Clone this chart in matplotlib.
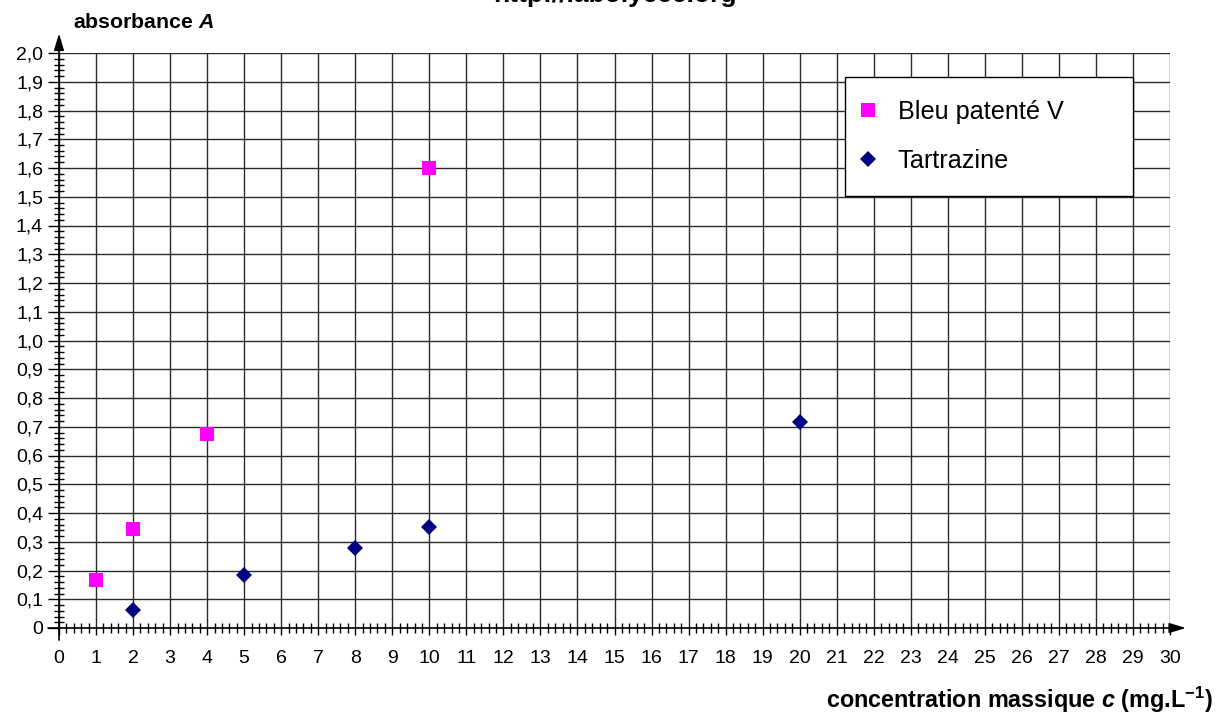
import matplotlib
matplotlib.use("Agg")
import matplotlib.pyplot as plt
from matplotlib.ticker import MultipleLocator, FuncFormatter

plt.rcParams['font.family'] = ['Liberation Sans', 'DejaVu Sans']
plt.rcParams['mathtext.fontset'] = 'custom'
plt.rcParams['mathtext.rm'] = 'Liberation Sans:bold'
plt.rcParams['mathtext.bf'] = 'Liberation Sans:bold'
plt.rcParams['mathtext.it'] = 'Liberation Sans:bold:italic'
plt.rcParams['mathtext.bfit'] = 'Liberation Sans:bold:italic'

# Data
bleu_c = [1, 2, 4, 10]
bleu_A = [0.167, 0.343, 0.675, 1.60]
tart_c = [2, 5, 8, 10, 20]
tart_A = [0.061, 0.183, 0.279, 0.352, 0.717]
series_labels = ["Bleu patenté V", "Tartrazine"]
title_text = "http://labolycee.org"
ylabel_text = r"absorbance $\mathit{A}$"
xlabel_text = r"concentration massique $\mathit{c}$ (mg.L$^{\mathbf{-1}}$)"

fig = plt.figure(figsize=(12.21, 7.18), dpi=100)
W, H = 1221, 718
x0, x1, y0, y1 = 59, 1170, 628, 53
ax = fig.add_axes([x0 / W, 1 - y0 / H, (x1 - x0) / W, (y0 - y1) / H])

ax.set_xlim(0, 30)
ax.set_ylim(0, 2.0)

ax.xaxis.set_major_locator(MultipleLocator(1))
ax.xaxis.set_minor_locator(MultipleLocator(0.2))
ax.yaxis.set_major_locator(MultipleLocator(0.1))
ax.yaxis.set_minor_locator(MultipleLocator(0.02))

def yfmt(v, pos):
    if abs(v) < 1e-9:
        return "0"
    return f"{v:.1f}".replace(".", ",")

ax.yaxis.set_major_formatter(FuncFormatter(yfmt))
ax.xaxis.set_major_formatter(FuncFormatter(lambda v, p: f"{int(round(v))}"))

ax.grid(which='major', color='#2a2a2a', linewidth=1.0)
ax.set_axisbelow(True)

for s in ax.spines.values():
    s.set_visible(False)

ax.tick_params(axis='x', which='major', direction='out', length=5, width=1,
               pad=11, labelsize=14, color='black')
ax.tick_params(axis='y', which='major', direction='out', length=8, width=1,
               pad=3.5, labelsize=14, color='black')
ax.tick_params(axis='both', which='minor', direction='inout', length=7, width=1,
               color='black')

ax.plot(bleu_c, bleu_A, linestyle='none', marker='s', markersize=10,
        color='#ff00ff', markeredgewidth=0, label=series_labels[0], zorder=4)
ax.plot(tart_c, tart_A, linestyle='none', marker='D', markersize=7.7,
        color='#000080', markeredgewidth=0, label=series_labels[1], zorder=4)

# axes arrows
arrow_kw = dict(arrowstyle='-|>,head_length=1.0,head_width=0.3', color='black',
                lw=1.2, shrinkA=0, shrinkB=0, mutation_scale=10)
ax.annotate('', xy=(0, 1.034), xytext=(0, -0.021), xycoords='axes fraction',
            textcoords='axes fraction', arrowprops=arrow_kw, annotation_clip=False)
ax.annotate('', xy=(1.0144, 0), xytext=(-0.0099, 0), xycoords='axes fraction',
            textcoords='axes fraction', arrowprops=arrow_kw, annotation_clip=False)

leg = ax.legend(loc='upper left', bbox_to_anchor=(0.7075, 0.7496, 0.2592, 0.2087),
                mode='expand', borderaxespad=0, fontsize=18.2, frameon=True,
                fancybox=False, framealpha=1, edgecolor='black',
                handlelength=0.0, handletextpad=1.19, borderpad=0.9,
                labelspacing=1.0)
leg.get_frame().set_linewidth(1.0)

fig.text(615 / W, 1 - 2 / H, title_text, ha='center', va='baseline',
         fontsize=19, fontweight='bold')
fig.text(73 / W, 1 - 22 / H, ylabel_text, ha='left', va='center',
         fontsize=15.3, fontweight='bold')
fig.text(1213 / W, 1 - 700 / H, xlabel_text, ha='right', va='center',
         fontsize=16.8, fontweight='bold')

fig.savefig("out.png", dpi=100)
